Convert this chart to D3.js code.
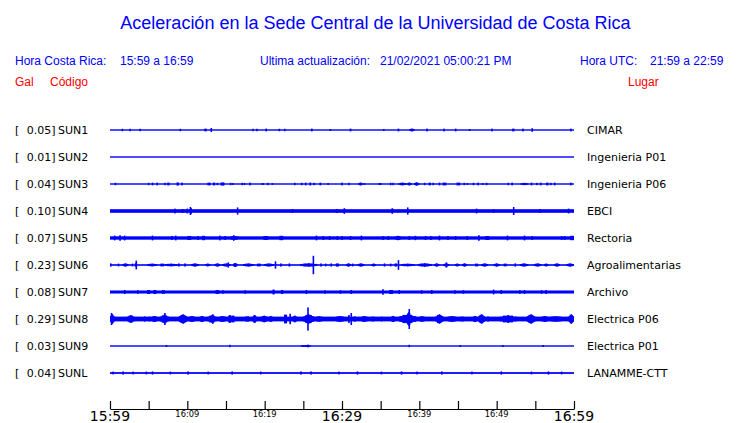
<!DOCTYPE html>
<html><head><meta charset="utf-8">
<script src="https://cdn.jsdelivr.net/npm/d3@7"></script>
<style>
html,body{margin:0;padding:0;background:#fff;}
svg{display:block;}
</style></head>
<body>
<script>
// ---------- data ----------
const title = "Aceleración en la Sede Central de la Universidad de Costa Rica";
const horaLocal = "15:59 a 16:59";
const ultima = "21/02/2021 05:00:21 PM";
const horaUTC = "21:59 a 22:59";
const stations = ["SUN1","SUN2","SUN3","SUN4","SUN5","SUN6","SUN7","SUN8","SUN9","SUNL"];
const places = ["CIMAR","Ingenieria P01","Ingenieria P06","EBCI","Rectoria","Agroalimentarias","Archivo","Electrica P06","Electrica P01","LANAMME-CTT"];
const peakGal = [0.05,0.01,0.04,0.10,0.07,0.23,0.08,0.29,0.03,0.04];
// background (noise) half-amplitude of each trace, gal
const noiseGal = [0.015,0.015,0.015,0.045,0.042,0.02,0.038,0.06,0.015,0.022];
// bursts: [minute, amp] or [startMinute, endMinute, amp], amplitude in gal
const sun1 = [[1.6,.03],[2.6,.03],[3.9,.03],[9.1,.03],[12.2,12.5,.035],[13.1,.05],[18.5,.03],[19.0,.03],[20.2,.035],[21.9,.03],[22.6,.03],[26.0,26.2,.035],[28.5,.025],[31.1,.035],[35.4,.025],[37.3,.035],[38.7,39.4,.035],[41.0,.035],[43.2,.035],[44.6,44.8,.035],[46.5,.025],[49.4,.035],[52.0,52.3,.035],[53.4,.035],[54.5,54.7,.045],[59.6,.035]];
const sun2 = [];
const sun3 = [[0.7,.03],[5.0,.03],[5.5,.035],[6.1,.035],[7.1,.03],[7.4,7.7,.035],[8.6,8.9,.04],[9.3,.035],[12.6,13.0,.035],[13.3,13.6,.035],[13.9,.03],[14.3,14.8,.04],[15.6,.03],[15.9,.025],[17.1,.03],[17.4,.025],[18.1,.035],[19.6,19.9,.025],[20.4,.03],[21.0,.025],[23.9,.03],[24.8,.03],[25.2,25.4,.035],[25.8,26.0,.04],[26.4,.03],[27.2,.035],[28.2,.025],[29.9,30.1,.035],[30.9,.03],[32.1,32.7,.035],[32.9,.025],[34.7,35.1,.025],[36.3,.03],[36.6,.03],[37.3,38.3,.035],[38.4,39.0,.035],[39.3,40.0,.04],[40.7,.03],[41.2,41.5,.035],[41.8,.03],[42.6,.035],[43.0,43.5,.035],[44.8,45.3,.035],[45.8,.03],[46.2,.025],[47.0,.03],[47.5,47.7,.035],[48.2,.025],[48.7,.03],[51.4,51.6,.03],[52.0,.035],[53.1,54.1,.03],[54.5,.035],[55.2,.03],[55.7,.035],[56.4,56.7,.035],[57.0,.03],[57.5,.035],[59.6,.035]];
const sun4 = [[8.4,.06],[9.4,.05],[10.0,.06],[10.4,.10],[10.5,.07],[16.5,.09],[23.6,.05],[29.2,29.5,.05],[30.3,.07],[36.5,.07],[38.5,.09],[47.4,.06],[49.6,.05],[52.2,.10],[55.6,.05],[59.3,.06]];
const sun5 = [[0.6,.06],[1.3,.07],[1.9,.06],[5.5,.06],[8.0,.05],[8.5,.06],[10.0,10.5,.05],[11.4,.05],[11.9,12.3,.055],[14.2,.06],[14.9,.05],[15.6,16.5,.05],[16.0,.07],[19.8,20.5,.05],[21.9,22.4,.055],[26.7,.06],[27.6,.05],[28.4,.05],[29.4,.05],[30.0,.05],[31.1,.05],[32.5,.06],[35.3,.05],[36.0,.05],[36.9,37.6,.055],[38.7,.05],[39.5,.055],[40.8,.05],[41.5,.05],[42.6,.06],[43.7,.05],[44.7,.05],[46.2,.05],[47.6,47.8,.07],[48.5,49.1,.05],[51.4,.06],[53.6,.06],[54.6,.05],[58.4,.05],[58.8,.05],[59.5,60,.055]];
const sun6 = [[0,0.2,.04],[1.1,.035],[1.6,2.4,.04],[2.8,3.0,.035],[3.2,3.5,.045],[3.4,.11],[4.8,6.1,.035],[6.5,7.0,.035],[7.1,8.7,.035],[8.9,.04],[9.7,.04],[10.5,11.5,.04],[12.3,13.0,.035],[13.5,14.3,.04],[14.5,15.6,.04],[15.3,.065],[15.9,16.5,.05],[17.2,18.6,.04],[19.0,19.5,.035],[19.9,21.2,.04],[21.4,.09],[22.1,.04],[23.2,.04],[24.6,26.8,.045],[26.3,.23],[27.3,.04],[27.9,.035],[28.6,.04],[29.2,29.6,.04],[30.5,31.2,.04],[31.4,.035],[32.0,32.9,.04],[33.8,34.4,.035],[35.5,.04],[36.3,.035],[36.8,37.1,.04],[37.3,.12],[37.6,39.4,.035],[39.8,41.6,.045],[41.9,42.6,.04],[43.1,43.9,.04],[43.5,.065],[44.6,45.2,.035],[45.5,46.2,.04],[47.2,47.6,.035],[48.0,48.9,.04],[49.6,50.4,.04],[50.9,51.3,.035],[52.4,.04],[53.0,54.1,.04],[54.8,55.8,.04],[56.1,56.7,.035],[57.4,58.2,.04],[59.0,60,.04]];
const sun7 = [[1.9,.05],[3.6,.045],[4.8,5.2,.05],[5.6,6.0,.05],[6.7,7.1,.045],[13.6,14.2,.05],[14.6,.045],[17.5,.045],[21.0,21.3,.06],[22.1,22.4,.05],[25.3,25.5,.05],[27.8,.045],[29.8,.045],[31.2,.05],[35.3,.07],[36.1,36.6,.05],[37.4,.05],[40.3,.045],[41.6,.05],[44.6,.045],[45.7,.045],[49.6,.06],[50.6,.05],[53.0,.045],[53.6,.05],[55.8,.045],[56.4,.05]];
const sun8 = [[0,0.6,.12],[0.2,.15],[2.2,3.2,.1],[4.5,.065],[5.0,5.2,.06],[5.4,6.1,.075],[6.5,7.6,.11],[7.1,.15],[8.9,10.0,.12],[10.2,11.0,.075],[11.7,12.1,.075],[12.6,13.8,.1],[13.3,.12],[14.1,15.0,.075],[15.2,15.8,.1],[15.7,16.1,.085],[17.5,18.0,.065],[18.4,19.0,.1],[19.5,20.4,.085],[20.6,21.0,.07],[22.5,22.9,.11],[23.3,.13],[23.6,24.2,.085],[25.0,26.4,.12],[25.6,.29],[26.6,27.5,.065],[29.2,30.3,.075],[30.9,.1],[31.2,.15],[31.5,31.8,.065],[32.5,33.3,.075],[33.8,34.2,.06],[35.0,35.2,.06],[36.4,36.8,.075],[37.4,39.6,.12],[38.3,39.0,.17],[38.7,.25],[40.0,40.7,.065],[42.1,43.1,.12],[43.7,44.8,.075],[45.3,45.8,.06],[47.0,47.4,.075],[47.6,48.5,.12],[48.9,.065],[50.4,52.6,.1],[53.9,55.0,.12],[55.8,56.7,.075],[56.9,58.4,.065],[59.3,60,.12]];
const sun9 = [[7.3,.025],[15.5,.03],[24.7,26.0,.025],[25.6,.035],[38.7,.03],[45.3,.025],[50.8,.025],[56.0,.025]];
const sunl = [[0.4,.035],[1.7,.04],[3.0,.035],[4.7,.035],[5.5,.04],[7.8,.035],[10.1,.04],[12.7,.035],[15.8,.04],[19.5,.035],[24.7,.04],[26.0,.04],[29.6,.035],[32.0,.04],[35.1,.035],[37.7,.04],[39.7,.035],[42.9,.04],[46.8,.035],[50.6,.04],[54.5,.035],[56.7,.04],[58.4,.035]];
const traces = [sun1,sun2,sun3,sun4,sun5,sun6,sun7,sun8,sun9,sunl];
const tickMinutes = [0,5,10,15,20,25,30,35,40,45,50,55,60];
const labelMinutes = [0,10,20,30,40,50,60];
const bigLabelMinutes = [0,30,60];

// ---------- drawing ----------
const W = 740, H = 423;
const BLUE = "#0000ff", RED = "#ff0000";
const svg = d3.select("body").append("svg").attr("width", W).attr("height", H);
const HEAD = "'Liberation Sans', Arial, sans-serif";
const BODY = "'DejaVu Sans', sans-serif";

const t0 = new Date(2021,1,21,15,59);
const minute = m => new Date(t0.getTime() + m*60000);
const x = d3.scaleTime().domain([minute(0), minute(60)]).range([110, 574]);
const row = d3.scalePoint().domain(stations).range([130, 373]);
const amp = d3.scaleLinear().domain([0, 0.3]).range([0, 12]);

svg.append("text").attr("x", 375.5).attr("y", 29).attr("text-anchor","middle")
  .attr("font-family", HEAD).attr("font-size", 18).attr("fill", BLUE).text(title);

const hdr = svg.append("g").attr("font-family", HEAD).attr("font-size", 12);
hdr.append("text").attr("x",15).attr("y",65).attr("fill",BLUE).text("Hora Costa Rica:");
hdr.append("text").attr("x",120).attr("y",65).attr("fill",BLUE).text(horaLocal);
hdr.append("text").attr("x",260).attr("y",65).attr("fill",BLUE).text("Ultima actualización:");
hdr.append("text").attr("x",380).attr("y",65).attr("fill",BLUE).text(ultima);
hdr.append("text").attr("x",580).attr("y",65).attr("fill",BLUE).text("Hora UTC:");
hdr.append("text").attr("x",650).attr("y",65).attr("fill",BLUE).text(horaUTC);
hdr.append("text").attr("x",15).attr("y",86).attr("fill",RED).text("Gal");
hdr.append("text").attr("x",50).attr("y",86).attr("fill",RED).text("Código");
hdr.append("text").attr("x",628).attr("y",86).attr("fill",RED).text("Lugar");

// labels
const lab = svg.append("g").attr("font-family", BODY).attr("font-size", 11).attr("fill","#000");
stations.forEach((s,i) => {
  const y = row(s) + 4;
  lab.append("text").attr("x",15).attr("y",y).text("[");
  lab.append("text").attr("x",55.5).attr("y",y).attr("text-anchor","end").text(peakGal[i].toFixed(2)+"]");
  lab.append("text").attr("x",58).attr("y",y).text(s);
  lab.append("text").attr("x",587).attr("y",y).text(places[i]);
});

// traces
const tr = svg.append("g").attr("fill", BLUE);
const bar = (xa, xb, cy, h) => tr.append("rect").attr("x", xa).attr("width", xb-xa).attr("y", cy-h).attr("height", 2*h);
traces.forEach((evs,i) => {
  const cy = row(stations[i]);
  const nh = Math.max(0.7, amp(noiseGal[i]));
  bar(x(minute(0)), x(minute(60)), cy, nh);
  evs.forEach(e => {
    const a = e.length === 2 ? e[1] : e[2];
    const s = e[0], f = e.length === 2 ? e[0] : e[1];
    const h = amp(a);
    let xa = x(minute(s)), xb = x(minute(f));
    if (xb - xa < 1.6) { const c = (xa+xb)/2; xa = c-0.8; xb = c+0.8; }
    if (xb - xa < 4) {
      bar(xa, xb, cy, h);
    } else {
      const w = xb - xa, c = (xa+xb)/2;
      bar(xa, xb, cy, Math.max(nh, h*0.6));
      bar(xa + w*0.18, xb - w*0.22, cy, Math.max(nh, h*0.85));
      bar(c-0.8, c+0.8, cy, h);
    }
  });
});

// axis
const axY = 409;
const ax = svg.append("g").attr("transform", `translate(0,${axY})`)
  .call(d3.axisTop(x).tickValues(tickMinutes.map(minute)).tickSize(8).tickSizeOuter(0).tickFormat(""));
ax.select(".domain").attr("stroke","#000").attr("stroke-width",1.2);
ax.selectAll(".tick line").attr("stroke","#000").attr("stroke-width",1.2);
const fmt = d3.timeFormat("%H:%M");
labelMinutes.forEach(m => {
  const big = bigLabelMinutes.includes(m);
  svg.append("text").attr("x", x(minute(m))).attr("y", big ? 420.5 : 416.5)
    .attr("text-anchor","middle").attr("font-family", BODY)
    .attr("font-size", big ? 14 : 8.3).attr("fill","#000").text(fmt(minute(m)));
});
</script>
</body></html>
